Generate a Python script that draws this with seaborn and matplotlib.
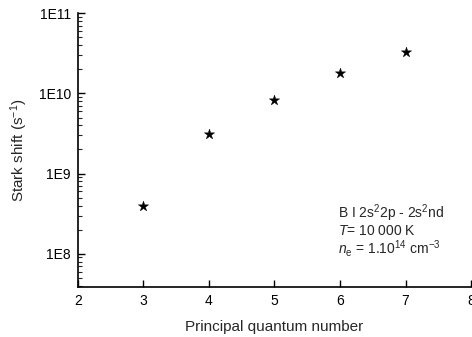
import numpy as np
import pandas as pd
import matplotlib
matplotlib.use("Agg")
import matplotlib.pyplot as plt
import matplotlib.ticker as mticker
import seaborn as sns

n_values = [3, 4, 5, 6, 7]
stark_shift = [4.0e8, 3.15e9, 8.2e9, 1.8e10, 3.3e10]
x_ticks = [2, 3, 4, 5, 6, 7, 8]
y_ticks = [1e8, 1e9, 1e10, 1e11]
y_tick_labels = ["1E8", "1E9", "1E10", "1E11"]
annotation_lines = ["B I 2s$^{2}$2p - 2s$^{2}$nd",
                    "$\\it{T}$= 10 000 K",
                    "$\\it{n}_{\\rm e}$ = 1.10$^{14}$ cm$^{-3}$"]

sns.set_style("ticks")
plt.rcParams['font.family'] = ['Liberation Sans', 'DejaVu Sans']
plt.rcParams['mathtext.fontset'] = 'custom'
plt.rcParams['mathtext.rm'] = 'Liberation Sans'
plt.rcParams['mathtext.it'] = 'Liberation Sans:italic'
plt.rcParams['mathtext.bf'] = 'Liberation Sans:bold'

df = pd.DataFrame({"n": n_values, "shift": stark_shift})

fig = plt.figure(figsize=(4.72, 3.37), dpi=100)
ax = fig.add_axes([0.165, 0.147, 0.833, 0.8135])
sns.scatterplot(data=df, x="n", y="shift", marker="*", s=60, color="black",
                edgecolor="black", linewidth=0.3, ax=ax, legend=False)
ax.set_yscale("log")
ax.set_xlim(2, 8)
ax.set_ylim(3.8e7, 1e11)
ax.set_xticks(x_ticks)
ax.set_xticklabels([str(t) for t in x_ticks])
ax.set_yticks(y_ticks)
ax.set_yticklabels(y_tick_labels)
ax.yaxis.set_minor_locator(mticker.LogLocator(base=10, subs=np.arange(2, 10)))
ax.yaxis.set_minor_formatter(mticker.NullFormatter())

for s in ["top", "right"]:
    ax.spines[s].set_visible(False)
for s in ["left", "bottom"]:
    ax.spines[s].set_linewidth(1.2)
    ax.spines[s].set_color("black")

ax.tick_params(axis="both", which="major", direction="in", length=5, width=1,
               labelsize=10, colors="black", pad=5)
ax.tick_params(axis="y", which="minor", direction="in", length=3, width=0.8)
ax.tick_params(axis="x", which="minor", bottom=False)

ax.set_xlabel("Principal quantum number", fontsize=11, labelpad=8)
ax.set_ylabel("Stark shift (s$^{-1}$)", fontsize=11, labelpad=6)

for line, yb in zip(annotation_lines, [0.254, 0.190, 0.122]):
    ax.text(0.662, yb, line, transform=ax.transAxes, fontsize=10,
            va="baseline", ha="left")

fig.savefig("out.png", dpi=100)
